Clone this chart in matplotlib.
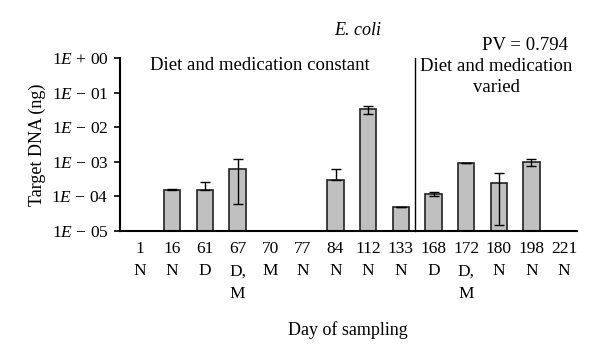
import numpy as np
import matplotlib
matplotlib.use('Agg')
import matplotlib.pyplot as plt

plt.rcParams['font.family'] = 'Liberation Serif'
plt.rcParams['mathtext.fontset'] = 'custom'
plt.rcParams['mathtext.rm'] = 'Liberation Serif'
plt.rcParams['mathtext.it'] = 'Liberation Serif:italic'

days = ['1', '16', '61', '67', '70', '77', '84', '112', '133', '168', '172', '180', '198', '221']
codes = ['N', 'N', 'D', 'D,\nM', 'M', 'N', 'N', 'N', 'N', 'D', 'D,\nM', 'N', 'N', 'N']
dna = [np.nan, 1.5e-4, 1.5e-4, 6.3e-4, np.nan, np.nan, 2.9e-4, 3.3e-2, 4.8e-5,
       1.18e-4, 9.3e-4, 2.45e-4, 1.0e-3, np.nan]
err_lo = [0, 0, 0, 5.7e-4, 0, 0, 0, 0.9e-2, 0, 1.3e-5, 0, 2.3e-4, 2.5e-4, 0]
err_hi = [0, 1.5e-5, 1.1e-4, 5.7e-4, 0, 0, 3.4e-4, 0.9e-2, 0, 1.3e-5, 2e-5, 2.3e-4, 2.5e-4, 0]
ytick_vals = [1e-5, 1e-4, 1e-3, 1e-2, 1e-1, 1e0]
ytick_labels = [r'$1\mathit{E}\,-\,05$', r'$1\mathit{E}\,-\,04$', r'$1\mathit{E}\,-\,03$',
                r'$1\mathit{E}\,-\,02$', r'$1\mathit{E}\,-\,01$', r'$1\mathit{E}\,+\,00$']

fig = plt.figure(figsize=(6, 3.61), dpi=100)
ax = fig.add_axes([0.2, 0.36, 0.762, 0.479])

x = np.arange(len(days))
heights = [0 if np.isnan(v) else v for v in dna]
ax.bar(x, heights, 0.5, bottom=0, color='#c0c0c0', edgecolor='#222222', linewidth=1.2)
ax.errorbar(x, heights, yerr=[err_lo, err_hi], fmt='none', ecolor='black',
            elinewidth=1.0, capsize=3.5, capthick=1.0)

ax.set_yscale('log')
ax.set_ylim(1e-5, 1e0)
ax.set_xlim(-0.6, 13.4)
ax.set_yticks(ytick_vals)
ax.set_yticklabels(ytick_labels, fontsize=12.5)
ax.minorticks_off()
ax.set_xticks(x)
ax.set_xticklabels([d + '\n' + c for d, c in zip(days, codes)], fontsize=12.5,
                   linespacing=1.55, va='top')
ax.tick_params(axis='x', length=0, pad=7)
ax.tick_params(axis='y', length=4, width=1.2, pad=4)
for s in ['top', 'right']:
    ax.spines[s].set_visible(False)
ax.spines['left'].set_linewidth(1.5)
ax.spines['bottom'].set_linewidth(1.5)

# separator between constant and varied periods
ax.plot([8.42, 8.42], [1e-5, 1e0], color='black', linewidth=1.0, clip_on=False)

fig.text(0.433, 0.818, 'Diet and medication constant', fontsize=13.5, ha='center', va='center')
fig.text(0.827, 0.838, 'Diet and medication\nvaried', fontsize=13.5, ha='center', va='top',
         linespacing=1.25)
fig.text(0.947, 0.875, 'PV = 0.794', fontsize=13.5, ha='right', va='center')
fig.text(0.597, 0.915, 'E. coli', fontsize=13, style='italic', ha='center', va='center')

fig.text(0.062, 0.6, 'Target DNA (ng)', fontsize=13, rotation=90, ha='center', va='center')
fig.text(0.58, 0.085, 'Day of sampling', fontsize=13, ha='center', va='center')

fig.savefig('out.png', dpi=100)
